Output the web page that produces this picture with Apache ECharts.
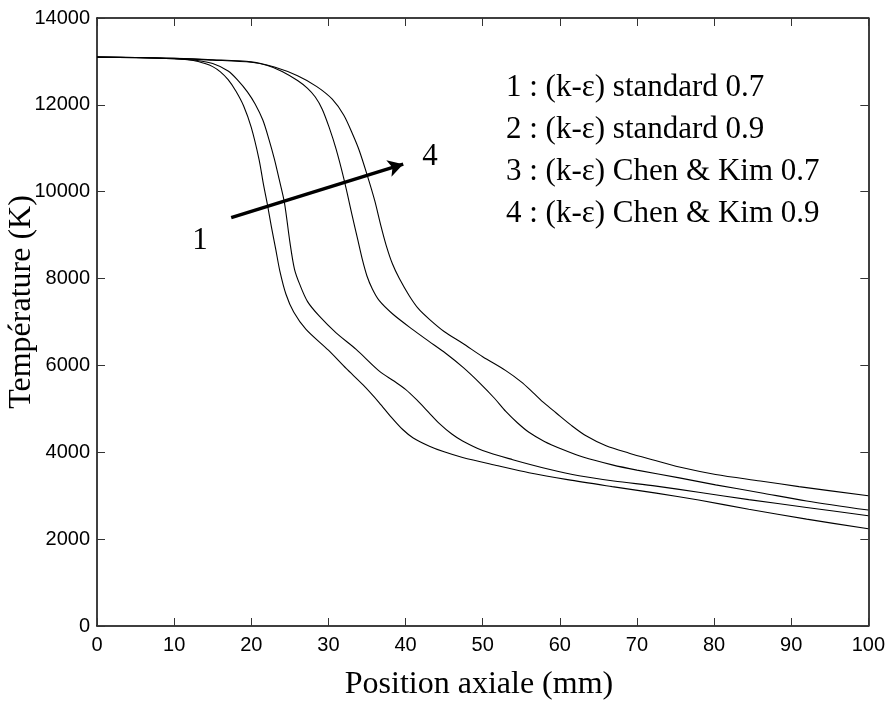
<!DOCTYPE html>
<html>
<head>
<meta charset="utf-8">
<script src="https://cdn.jsdelivr.net/npm/echarts@6/dist/echarts.min.js"></script>
<style>html,body{margin:0;padding:0;background:#fff}#c{width:888px;height:702px}</style>
</head>
<body>
<div id="c"></div>
<script>
// ---- data (x: mm, y: K) ----
const curve1 = [[0,13100],[5,13090],[10,13060],[12.5,13020],[14,12950],[15,12880],[16,12760],[17,12580],[18,12320],[19,11980],[20,11480],[21,10750],[21.6,10150],[22.1,9700],[22.6,9200],[23.2,8650],[23.7,8180],[24.5,7640],[25.5,7230],[27.1,6830],[30,6350],[32.3,5930],[34.5,5550],[36.6,5140],[38,4840],[39.6,4530],[41,4330],[43.1,4140],[45,4010],[47.4,3880],[52,3690],[56,3530],[61,3370],[66.8,3210],[72.5,3060],[78,2900],[84.5,2690],[92,2460],[100,2240]];
const curve2 = [[0,13100],[5,13090],[10,13060],[13,13020],[15,12950],[17,12780],[18.3,12560],[19.5,12300],[20.5,12020],[21.5,11650],[22.3,11200],[23,10750],[23.6,10300],[24.3,9750],[25.0,8850],[25.6,8220],[26.3,7860],[27.3,7470],[28.8,7140],[31,6750],[33.6,6370],[36.6,5870],[38.5,5640],[40,5450],[41.5,5200],[43,4920],[44.4,4660],[46,4420],[47.4,4260],[50,4040],[53.9,3830],[58.6,3610],[62.5,3460],[67,3340],[72.5,3220],[78,3080],[84.5,2910],[92,2730],[100,2540]];
const curve3 = [[0,13100],[10,13070],[15,13030],[20,12980],[22,12910],[24,12770],[26,12560],[27.3,12380],[28.3,12180],[29.2,11900],[30.1,11480],[31,10980],[32,10300],[33.1,9440],[33.8,8900],[34.4,8440],[35,8060],[35.7,7760],[36.6,7490],[38.3,7190],[40.9,6830],[43,6560],[45.2,6280],[47.5,5950],[49.6,5600],[51.5,5250],[53,4940],[54.5,4680],[56,4460],[58,4250],[60.3,4070],[63,3890],[66.8,3710],[70,3590],[75.5,3410],[80.2,3250],[86,3070],[92,2880],[100,2670]];
const curve4 = [[0,13100],[10,13070],[15,13040],[20,12990],[23,12870],[26,12670],[28.5,12420],[30.5,12130],[32,11760],[33.2,11300],[34,10950],[35,10400],[36,9800],[36.8,9220],[37.5,8760],[38.3,8340],[39.2,8000],[40.5,7600],[41.7,7300],[43.1,7060],[45,6780],[47.4,6510],[50,6200],[53,5880],[55,5620],[56.5,5380],[58,5130],[59.5,4910],[61.5,4620],[63.4,4380],[66,4150],[69,3980],[72,3830],[75.5,3660],[80.2,3490],[86,3340],[91,3210],[100,3000]];
const seriesNames = ['1','2','3','4'];
const legendLines = ['1 : (k-\u03b5) standard 0.7','2 : (k-\u03b5) standard 0.9','3 : (k-\u03b5) Chen & Kim 0.7','4 : (k-\u03b5) Chen & Kim 0.9'];
const arrowFrom = [17.4, 9405];
const arrowTo = [39.7, 10635];
const xTitle = 'Position axiale (mm)';
const yTitle = 'Temp\u00e9rature (K)';

const chart = echarts.init(document.getElementById('c'), null, {renderer:'canvas'});
const serif = '"Liberation Serif","Times New Roman",serif';
const sans = '"Liberation Sans",Arial,sans-serif';
const tickStyle = {show:true, inside:true, length:8, lineStyle:{color:'#333', width:1}};
const axisLineStyle = {show:true, onZero:false, lineStyle:{color:'#000', width:1.5}};
const curves = [curve1, curve2, curve3, curve4];

const series = curves.map((c,i) => ({
  name: seriesNames[i], type:'line', data:c, showSymbol:false, symbol:'none',
  smooth:0.3,
  lineStyle:{color:'#000', width:1.1}, animation:false, z:2
}));
series[0].markLine = {
  silent:true, animation:false, symbol:['none','arrow'], symbolSize:[13,15],
  label:{show:false},
  lineStyle:{color:'#000', width:3.5, type:'solid'},
  data:[[{coord:arrowFrom},{coord:arrowTo}]]
};

const graphics = legendLines.map((t,i) => ({
  type:'text', x:506, y:88 + i*42,
  style:{text:t, font:'31px '+serif, fill:'#000', textAlign:'left', textVerticalAlign:'middle'}
}));
graphics.push({type:'text', x:200, y:241, style:{text:'1', font:'31px '+serif, fill:'#000', textAlign:'center', textVerticalAlign:'middle'}});
graphics.push({type:'text', x:430, y:157, style:{text:'4', font:'31px '+serif, fill:'#000', textAlign:'center', textVerticalAlign:'middle'}});
graphics.push({type:'text', x:479, y:685, style:{text:xTitle, font:'32px '+serif, fill:'#000', textAlign:'center', textVerticalAlign:'middle'}});
graphics.push({type:'text', x:22, y:302, rotation:Math.PI/2, style:{text:yTitle, font:'32px '+serif, fill:'#000', textAlign:'center', textVerticalAlign:'middle'}});

const plain = v => String(v);
chart.setOption({
  animation:false,
  backgroundColor:'#fff',
  grid:{left:97, right:19, top:18, bottom:76, containLabel:false},
  xAxis:[
    {type:'value', min:0, max:100, interval:10, position:'bottom',
     axisLine:axisLineStyle, axisTick:tickStyle, splitLine:{show:false},
     axisLabel:{color:'#000', fontSize:20, fontFamily:sans, margin:9, formatter:plain}},
    {type:'value', min:0, max:100, interval:10, position:'top',
     axisLine:axisLineStyle, axisTick:tickStyle, splitLine:{show:false}, axisLabel:{show:false}}
  ],
  yAxis:[
    {type:'value', min:0, max:14000, interval:2000, position:'left',
     axisLine:axisLineStyle, axisTick:tickStyle, splitLine:{show:false},
     axisLabel:{color:'#000', fontSize:20, fontFamily:sans, margin:7, formatter:plain}},
    {type:'value', min:0, max:14000, interval:2000, position:'right',
     axisLine:axisLineStyle, axisTick:tickStyle, splitLine:{show:false}, axisLabel:{show:false}}
  ],
  series: series,
  graphic: graphics
});
</script>
</body>
</html>
